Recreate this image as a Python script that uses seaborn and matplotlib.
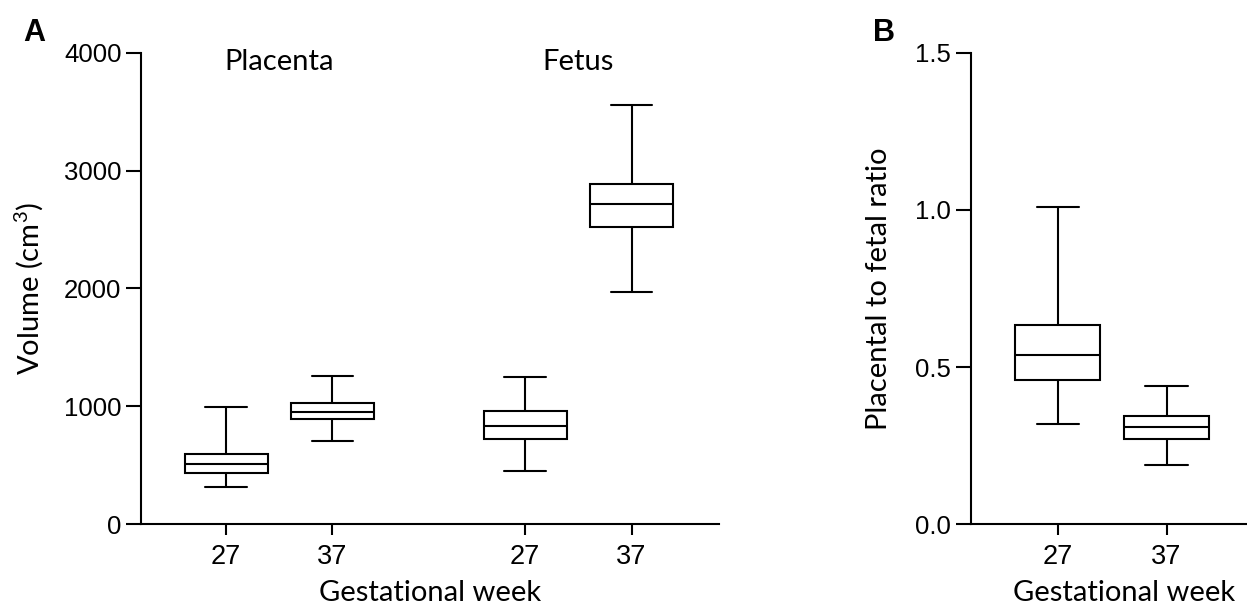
import numpy as np
import pandas as pd
import matplotlib
matplotlib.use('Agg')
import matplotlib.pyplot as plt
import seaborn as sns

# five-number summaries (min, Q1, median, Q3, max)
tissues = ['Placenta', 'Placenta', 'Fetus', 'Fetus']
weeks = ['27', '37', '27', '37']
vol_min = [320, 710, 450, 1970]
vol_q1 = [435, 895, 725, 2520]
vol_med = [515, 950, 830, 2720]
vol_q3 = [600, 1030, 965, 2890]
vol_max = [995, 1260, 1250, 3555]

ratio_weeks = ['27', '37']
ratio_min = [0.32, 0.19]
ratio_q1 = [0.46, 0.27]
ratio_med = [0.54, 0.31]
ratio_q3 = [0.635, 0.345]
ratio_max = [1.01, 0.44]

# five points per group -> quartiles of these points are exactly the summary
rows = []
for i in range(len(tissues)):
    for v in [vol_min[i], vol_q1[i], vol_med[i], vol_q3[i], vol_max[i]]:
        rows.append({'tissue': tissues[i], 'week': weeks[i], 'volume': v})
df_vol = pd.DataFrame(rows)

rows = []
for i in range(len(ratio_weeks)):
    for v in [ratio_min[i], ratio_q1[i], ratio_med[i], ratio_q3[i], ratio_max[i]]:
        rows.append({'week': ratio_weeks[i], 'ratio': v})
df_ratio = pd.DataFrame(rows)

sns.set_style('ticks')
plt.rcParams['font.family'] = ['Liberation Sans', 'DejaVu Sans']
plt.rcParams['mathtext.fontset'] = 'custom'
plt.rcParams['mathtext.rm'] = 'Lato'
plt.rcParams['mathtext.it'] = 'Lato'
for key in ['text.color', 'axes.labelcolor', 'xtick.color', 'ytick.color', 'axes.edgecolor']:
    plt.rcParams[key] = 'black'

lw = 1.5
label_font = dict(family=['Lato', 'DejaVu Sans'], fontsize=21)

fig = plt.figure(figsize=(12.47, 6.09), dpi=100)
W, H = 1247, 609
axA = fig.add_axes([141 / W, 1 - 524.3 / H, (719 - 141) / W, (524.3 - 52.7) / H])
axB = fig.add_axes([970.7 / W, 1 - 524.3 / H, (1247 - 970.7) / W, (524.3 - 52.7) / H])

box_kw = dict(whis=(0, 100), linecolor='black', linewidth=lw, saturation=1,
              medianprops=dict(color='black', linewidth=lw))

# panel A
wA = 0.711
sns.boxplot(data=df_vol, x='tissue', y='volume', hue='week',
            order=['Placenta', 'Fetus'], hue_order=['27', '37'],
            palette=['white', 'white'], width=wA, gap=0.22, legend=False,
            ax=axA, **box_kw)
axA.set_xlim(-0.462, 1.470)
axA.set_ylim(0, 4000)
axA.set_yticks([0, 1000, 2000, 3000, 4000])
axA.set_xticks([-wA / 4, wA / 4, 1 - wA / 4, 1 + wA / 4])
axA.set_xticklabels(weeks)
axA.set_xlabel('Gestational week', **label_font)
axA.xaxis.set_label_coords(0.5, -0.118)
axA.set_ylabel('Volume (cm$^{3}$)', **label_font)
axA.yaxis.set_label_coords(-0.166, 0.5)
for j, name in enumerate(['Placenta', 'Fetus']):
    axA.text(j, 3925, name, ha='center', va='center', **label_font)

# panel B
sns.boxplot(data=df_ratio, x='week', y='ratio', order=ratio_weeks,
            color='white', width=0.78, ax=axB, **box_kw)
axB.set_xlim(-0.80, 1.74)
axB.set_ylim(0, 1.5)
axB.set_yticks([0, 0.5, 1.0, 1.5])
axB.set_yticklabels(['0.0', '0.5', '1.0', '1.5'])
axB.set_xlabel('Gestational week', **label_font)
axB.xaxis.set_label_coords(0.555, -0.118)
axB.set_ylabel('Placental to fetal ratio', **label_font)
axB.yaxis.set_label_coords(-0.285, 0.5)

for ax in [axA, axB]:
    sns.despine(ax=ax)
    for s in ['left', 'bottom']:
        ax.spines[s].set_linewidth(lw)
        ax.spines[s].set_color('black')
    ax.tick_params(axis='y', length=11, width=lw, labelsize=18.5, pad=3, color='black', labelcolor='black')
    ax.tick_params(axis='x', length=8, width=lw, labelsize=19.5, pad=6, color='black', labelcolor='black')

fig.text(23 / W, 1 - 40.7 / H, 'A', fontsize=22, fontweight='bold', va='baseline', color='black')
fig.text(873 / W, 1 - 40.7 / H, 'B', fontsize=22, fontweight='bold', va='baseline', color='black')

fig.savefig('out.png', dpi=100)
